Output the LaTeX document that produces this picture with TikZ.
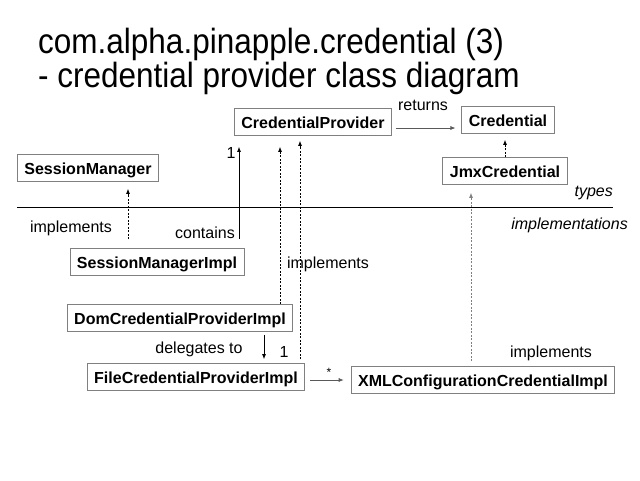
\documentclass[tikz,border=0pt]{standalone}
\usepackage{fontspec}
\setmainfont{Liberation Sans}
\usetikzlibrary{arrows.meta}

\begin{document}
\begin{tikzpicture}[x=1pt,y=-1pt,
  title/.style={anchor=base west,inner sep=0pt,font=\fontsize{35}{40}\selectfont},
  cls/.style={draw=gray,line width=0.8pt,font=\bfseries\fontsize{16}{18}\selectfont,
    inner xsep=7pt,inner ysep=0pt,minimum height=27pt,text height=12pt,text depth=0pt},
  lbl/.style={inner sep=0pt,font=\fontsize{16}{18}\selectfont},
  layer/.style={lbl,anchor=east,font=\itshape\fontsize{16}{18}\selectfont},
  dep/.style={-{Latex[length=5pt,width=4pt]},line width=0.7pt},
  impl/.style={dep,dash pattern=on 2pt off 1.5pt}]
  \useasboundingbox (0,0) rectangle (640,480);
  \node[title] (head1) at (38,53) {\scalebox{0.9}[1]{com.alpha.pinapple.credential (3)}};
  \node[title] (head2) at (38,87) {\scalebox{0.9}[1]{- credential provider class diagram}};
  % types
  \node[cls] (prov) at (313,122) {CredentialProvider};
  \node[cls] (cred) at (508,120) {Credential};
  \node[cls] (jmx) at (505,171) {JmxCredential};
  \node[cls] (sess) at (88,168) {SessionManager};
  % implementations
  \node[cls] (sessimpl) at (157,262) {SessionManagerImpl};
  \node[cls] (dom) at (180,318) {DomCredentialProviderImpl};
  \node[cls] (file) at (196,377) {FileCredentialProviderImpl};
  \node[cls] (xml) at (483,380) {XMLConfigurationCredentialImpl};
  \draw[line width=0.7pt] (17,207) -- (613,207);
  \node[layer] (types) at (613,193) {types};
  \node[layer] (impls) at (628,225) {implementations};
  % connectors
  \draw[dep,draw=gray!70!black,shorten <=4pt,shorten >=6pt] ([yshift=-6pt]prov.east) -- ([yshift=-6pt]prov.east -| cred.west);
  \draw[impl,shorten >=6pt] (jmx.north) -- (jmx.north |- cred.south);
  \draw[impl,shorten <=9pt,shorten >=7pt] ([xshift=-29pt]sessimpl.north) -- ([xshift=-29pt]sessimpl.north |- sess.south);
  \draw[dep,shorten <=9pt,shorten >=11pt] ([xshift=82pt]sessimpl.north) -- ([xshift=82pt]sessimpl.north |- prov.south);
  \draw[impl,shorten >=11pt] ([xshift=100pt]dom.north) -- ([xshift=100pt]dom.north |- prov.south);
  \draw[impl,shorten <=4pt,shorten >=5pt] ([xshift=104pt]file.north) -- ([xshift=104pt]file.north |- prov.south);
  \draw[dep,shorten <=3pt,shorten >=4pt] ([xshift=84pt]dom.south) -- ([xshift=84pt]dom.south |- file.north);
  \draw[dep,draw=gray!70!black,shorten <=5pt,shorten >=7pt] ([yshift=-3pt]file.east) -- ([yshift=-3pt]file.east -| xml.west);
  \draw[impl,draw=gray,shorten <=5pt,shorten >=8pt] ([xshift=-12pt]xml.north) -- ([xshift=-12pt]xml.north |- jmx.south);
  % labels
  \node[lbl] (returns) at (423,105) {returns};
  \node[lbl] (implsess) at (71,228) {implements};
  \node[lbl] (contains) at (205,233) {contains};
  \node[lbl] (onesess) at (231,153) {1};
  \node[lbl] (implprov) at (328,264) {implements};
  \node[lbl] (delegates) at (199,349) {delegates to};
  \node[lbl] (onefile) at (284,352) {1};
  \node[lbl,font=\fontsize{12}{14}\selectfont] (many) at (329,372) {*};
  \node[lbl] (impljmx) at (551,353) {implements};
\end{tikzpicture}
\end{document}
